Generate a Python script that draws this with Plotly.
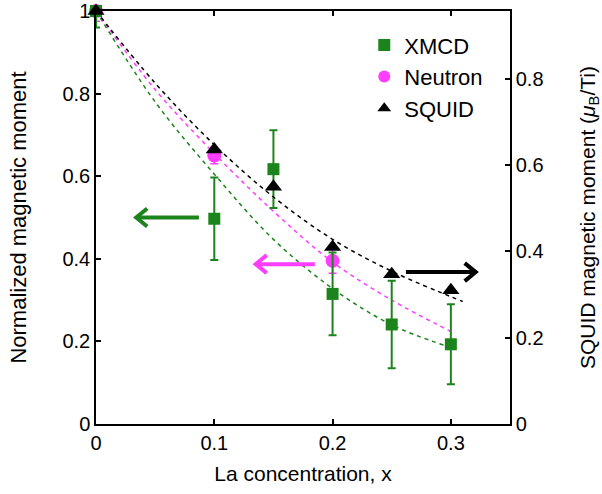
import plotly.graph_objects as go

# ---- data ----
xmcd_x = [0, 0.1, 0.15, 0.2, 0.25, 0.3]
xmcd_y = [1.0, 0.497, 0.617, 0.315, 0.241, 0.193]
xmcd_err = [0.04, 0.10, 0.094, 0.10, 0.106, 0.097]

neut_x = [0, 0.1, 0.2]
neut_y = [1.0, 0.65, 0.395]
neut_err = [0.025, 0.02, 0.03]

squid_x = [0, 0.1, 0.15, 0.2, 0.25, 0.3]
squid_y = [0.957, 0.636, 0.55, 0.41, 0.347, 0.31]   # muB/Ti (right axis)

fit_xmcd_x = [0, 0.05, 0.1, 0.15, 0.2, 0.25, 0.295]
fit_xmcd_y = [1.0, 0.78, 0.605, 0.447, 0.328, 0.24, 0.19]
fit_neut_x = [0, 0.05, 0.1, 0.15, 0.2, 0.25, 0.3]
fit_neut_y = [1.0, 0.81, 0.655, 0.515, 0.392, 0.30, 0.224]
fit_squid_x = [0, 0.05, 0.1, 0.15, 0.2, 0.25, 0.3, 0.31]
fit_squid_y = [0.957, 0.79, 0.647, 0.526, 0.428, 0.354, 0.295, 0.284]

left_ticks = [0, 0.2, 0.4, 0.6, 0.8, 1]
left_tick_text = ["0", "0.2", "0.4", "0.6", "0.8", "1"]
right_ticks = [0, 0.2, 0.4, 0.6, 0.8]
right_tick_text = ["0", "0.2", "0.4", "0.6", "0.8"]
x_ticks = [0, 0.1, 0.2, 0.3]
x_tick_text = ["0", "0.1", "0.2", "0.3"]

GREEN = "#1c841c"
MAG = "#ff3dff"
BLACK = "#000000"
FONT = "Liberation Sans, Arial, Helvetica, sans-serif"

fig = go.Figure()

# fit curves
fig.add_trace(go.Scatter(x=fit_xmcd_x, y=fit_xmcd_y, mode="lines", line=dict(color=GREEN, width=1.5, dash="4px,4px", shape="spline"), showlegend=False, hoverinfo="skip"))
fig.add_trace(go.Scatter(x=fit_neut_x, y=fit_neut_y, mode="lines", line=dict(color=MAG, width=1.5, dash="4px,4px", shape="spline"), showlegend=False, hoverinfo="skip"))
fig.add_trace(go.Scatter(x=fit_squid_x, y=fit_squid_y, yaxis="y2", mode="lines", line=dict(color=BLACK, width=1.5, dash="4px,4px", shape="spline"), showlegend=False, hoverinfo="skip"))

# data
fig.add_trace(go.Scatter(x=neut_x, y=neut_y, mode="markers", name="Neutron", legendrank=2,
                         marker=dict(symbol="circle", size=14, color=MAG),
                         error_y=dict(type="data", array=neut_err, color=MAG, thickness=1.5, width=4),
                         cliponaxis=False))
fig.add_trace(go.Scatter(x=xmcd_x, y=xmcd_y, mode="markers", name="XMCD", legendrank=1,
                         marker=dict(symbol="square", size=12, color=GREEN),
                         error_y=dict(type="data", array=xmcd_err, color=GREEN, thickness=2, width=4),
                         cliponaxis=False))
fig.add_trace(go.Scatter(x=squid_x, y=squid_y, yaxis="y2", mode="markers", name="SQUID", legendrank=3,
                         marker=dict(symbol="triangle-up", size=15, color=BLACK),
                         cliponaxis=False))

# arrows drawn as shaft + open chevron head
PX_X = 0.35 / 414.0   # data units per pixel (x)


def add_arrow(x_tail, x_tip, y, yref, color, y_px):
    fig.add_shape(type="line", x0=x_tail, x1=x_tip, y0=y, y1=y, xref="x", yref=yref,
                  line=dict(color=color, width=4))
    d = 1 if x_tail > x_tip else -1
    hx = x_tip + d * 11 * PX_X
    hy = 9 * y_px
    fig.add_shape(type="path", xref="x", yref=yref,
                  path=f"M {hx},{y + hy} L {x_tip},{y} L {hx},{y - hy}",
                  line=dict(color=color, width=4))


add_arrow(0.087, 0.034, 0.50, "y", GREEN, 1 / 413.0)
add_arrow(0.185, 0.135, 0.387, "y", MAG, 1 / 413.0)
add_arrow(0.262, 0.321, 0.352, "y2", BLACK, 0.957 / 413.0)

axis_common = dict(showline=True, linecolor="black", linewidth=1.5, ticks="inside", ticklen=5,
                   tickwidth=1.5, tickcolor="black", showgrid=False, zeroline=False, automargin=False,
                   tickfont=dict(size=20, color="black", family=FONT))

fig.update_layout(
    width=602, height=494,
    margin=dict(l=96, r=92, t=11, b=70),
    plot_bgcolor="white", paper_bgcolor="white",
    font=dict(family=FONT, size=20, color="black"),
    xaxis=dict(range=[0, 0.35], tickvals=x_ticks, ticktext=x_tick_text, mirror="ticks",
               title=dict(text="La concentration, x", font=dict(size=21), standoff=14), **axis_common),
    yaxis=dict(range=[0, 1], tickvals=left_ticks, ticktext=left_tick_text,
               title=dict(text="Normalized magnetic moment", font=dict(size=22), standoff=30), **axis_common),
    yaxis2=dict(range=[0, 0.957], tickvals=right_ticks, ticktext=right_tick_text, overlaying="y", side="right",
                title=dict(text="SQUID magnetic moment (<i>μ</i><sub>B</sub>/Ti)", font=dict(size=21), standoff=38),
                **axis_common),
    legend=dict(x=0.648, y=0.968, xanchor="left", yanchor="top", bgcolor="rgba(0,0,0,0)",
                font=dict(size=22), itemsizing="constant", tracegroupgap=4),
)

fig.write_html("out.html")
